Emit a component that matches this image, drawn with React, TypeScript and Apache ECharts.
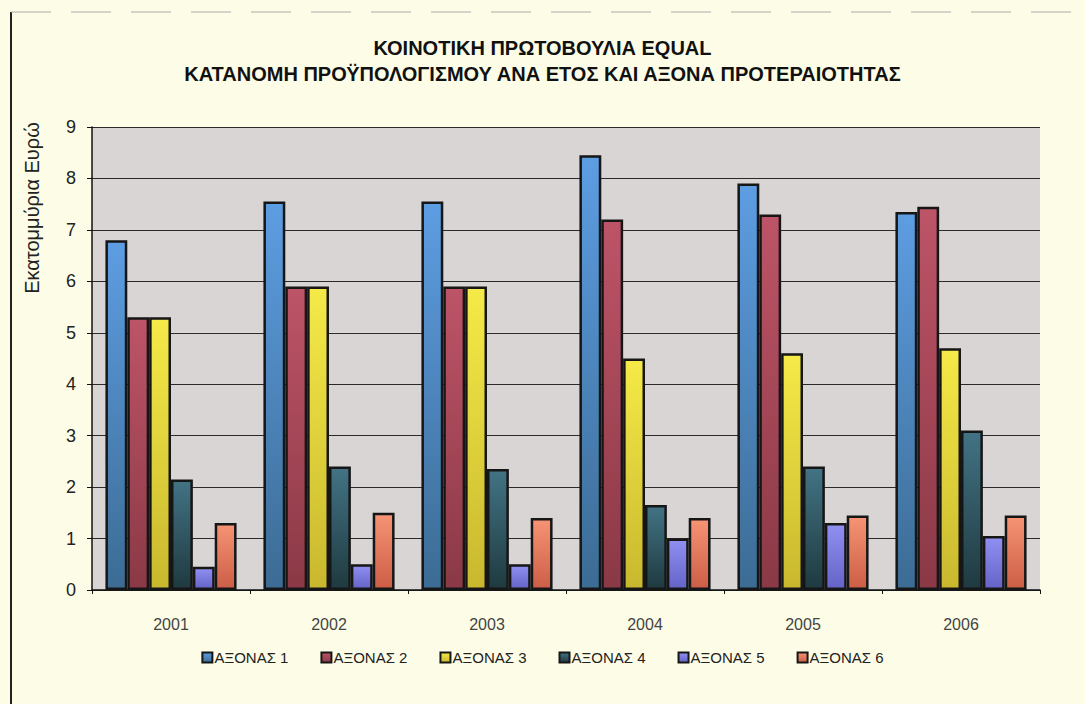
import React, { useEffect, useRef } from "react";
import * as echarts from "echarts";

const titleLines = [
  "ΚΟΙΝΟΤΙΚΗ ΠΡΩΤΟΒΟΥΛΙΑ EQUAL",
  "ΚΑΤΑΝΟΜΗ ΠΡΟΫΠΟΛΟΓΙΣΜΟΥ ΑΝΑ ΕΤΟΣ ΚΑΙ ΑΞΟΝΑ ΠΡΟΤΕΡΑΙΟΤΗΤΑΣ",
];
const yAxisTitle = "Εκατομμύρια Ευρώ";
const years = ["2001", "2002", "2003", "2004", "2005", "2006"];
const seriesNames = ["ΑΞΟΝΑΣ 1", "ΑΞΟΝΑΣ 2", "ΑΞΟΝΑΣ 3", "ΑΞΟΝΑΣ 4", "ΑΞΟΝΑΣ 5", "ΑΞΟΝΑΣ 6"];
const axon1 = [6.8, 7.55, 7.55, 8.45, 7.9, 7.35];
const axon2 = [5.3, 5.9, 5.9, 7.2, 7.3, 7.45];
const axon3 = [5.3, 5.9, 5.9, 4.5, 4.6, 4.7];
const axon4 = [2.15, 2.4, 2.35, 1.65, 2.4, 3.1];
const axon5 = [0.45, 0.5, 0.5, 1.0, 1.3, 1.05];
const axon6 = [1.3, 1.5, 1.4, 1.4, 1.45, 1.45];
const seriesValues = [axon1, axon2, axon3, axon4, axon5, axon6];
const colorsTop = ["#5d9de2", "#bd5468", "#f5ea48", "#427384", "#9090f2", "#f69474"];
const colorsBottom = ["#3c6c94", "#8b3946", "#c9b82e", "#1f3a40", "#6464c8", "#cc5e46"];
const yMin = 0;
const yMax = 9;
const yStep = 1;

export default function App() {
  const ref = useRef<HTMLDivElement>(null);
  useEffect(() => {
    document.body.style.margin = "0";
    const chart = echarts.init(ref.current!, undefined, { renderer: "svg" });
    const font = "'Liberation Sans', Arial, sans-serif";
    chart.setOption({
      animation: false,
      backgroundColor: "#fdfde7",
      title: {
        text: titleLines.join("\n"),
        left: "center",
        top: 30,
        textStyle: {
          fontFamily: font,
          fontWeight: "bold",
          fontSize: 20,
          lineHeight: 26,
          color: "#111",
        },
      },
      legend: {
        bottom: 34,
        left: "center",
        itemWidth: 10,
        itemHeight: 10,
        itemGap: 32,
        icon: "rect",
        textStyle: { fontFamily: font, fontSize: 15, color: "#222", padding: [0, 0, 0, -3] },
        data: seriesNames,
      },
      grid: { left: 92, right: 45, top: 127, bottom: 114, containLabel: false },
      xAxis: {
        type: "category",
        data: years,
        axisLine: { lineStyle: { color: "#111", width: 1.5 } },
        axisTick: { show: true, length: 4, lineStyle: { color: "#111" } },
        axisLabel: {
          fontFamily: font,
          fontSize: 16,
          color: "#444",
          margin: 26,
        },
        splitLine: { show: false },
      },
      yAxis: {
        type: "value",
        min: yMin,
        max: yMax,
        interval: yStep,
        axisLine: { show: true, lineStyle: { color: "#111", width: 1.5 } },
        axisTick: { show: true, length: 5, lineStyle: { color: "#111" } },
        axisLabel: { fontFamily: font, fontSize: 18, color: "#222", margin: 16 },
        splitLine: { show: true, lineStyle: { color: "#2a2a2a", width: 1.2 } },
        splitArea: { show: true, areaStyle: { color: ["#d8d5d4", "#d8d5d4"] } },
      },
      graphic: [
        {
          type: "line",
          shape: { x1: 11, y1: 12, x2: 11, y2: 704 },
          style: { stroke: "#222", lineWidth: 2 },
        },
        {
          type: "line",
          shape: { x1: 11, y1: 12, x2: 1085, y2: 12 },
          style: { stroke: "#aaa", lineWidth: 1, lineDash: [40, 20] },
        },
        {
          type: "text",
          x: 32,
          y: 208,
          rotation: Math.PI / 2,
          style: {
            text: yAxisTitle,
            fontFamily: font,
            fontSize: 20,
            fill: "#222",
            align: "center",
            verticalAlign: "middle",
          },
        },
      ],
      series: seriesNames.map((name, i) => ({
        name,
        type: "bar",
        data: seriesValues[i],
        barGap: "0%",
        barCategoryGap: "17%",
        itemStyle: {
          color: new echarts.graphic.LinearGradient(0, 0, 0, 1, [
            { offset: 0, color: colorsTop[i] },
            { offset: 1, color: colorsBottom[i] },
          ]),
          borderColor: "#161616",
          borderWidth: 2.5,
        },
      })),
    });
    return () => chart.dispose();
  }, []);
  return <div ref={ref} style={{ width: 1085, height: 704 }} />;
}
